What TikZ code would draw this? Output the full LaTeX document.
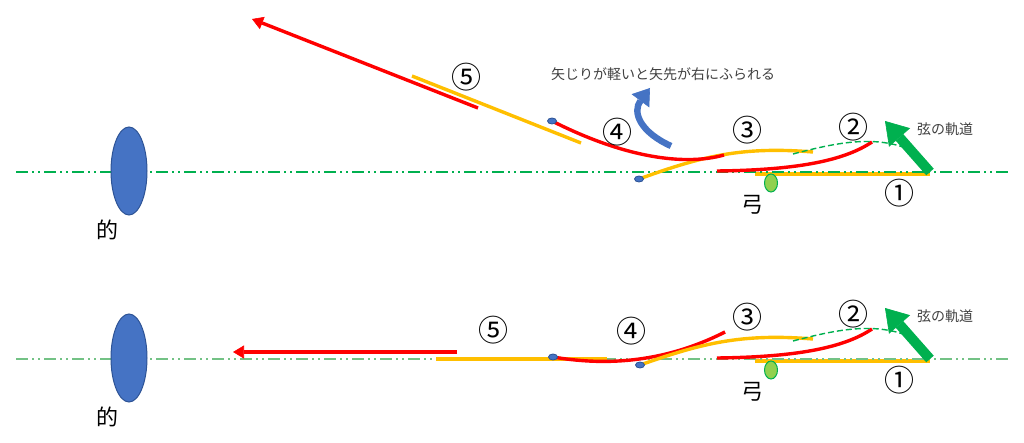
\documentclass[tikz,border=0pt]{standalone}
\usepackage{fontspec}
\setmainfont{Noto Sans CJK JP}
\usetikzlibrary{shapes,arrows.meta}
\definecolor{arrowred}{rgb}{1,0,0}
\definecolor{shaftyellow}{rgb}{1,0.75,0}
\definecolor{axisgreen}{rgb}{0,0.69,0.31}
\definecolor{axislight}{rgb}{0.45,0.76,0.52}
\definecolor{targetblue}{rgb}{0.27,0.45,0.77}
\definecolor{targetedge}{rgb}{0.18,0.33,0.59}
\definecolor{bowgreen}{rgb}{0.57,0.82,0.31}
\definecolor{textgray}{rgb}{0.25,0.25,0.25}

\begin{document}
\begin{tikzpicture}[
    x = 0.5pt, y = -0.5pt,
    axis/.style       = {line width=0.8pt,
      dash pattern=on 6pt off 2pt on 1pt off 2pt on 1pt off 2pt},
    redline/.style    = {draw=arrowred, line width=1.7pt},
    yellowline/.style = {draw=shaftyellow, line width=1.7pt},
    flight/.style     = {redline,
      -{Triangle[length=5.5pt,width=6.5pt,line width=0.3pt]}},
    stringpath/.style = {draw=axisgreen, line width=0.7pt,
      dash pattern=on 3pt off 1.5pt},
    pull/.style       = {draw=axisgreen, line width=5pt,
      -{Triangle[length=11pt,width=14pt,line width=0.3pt]}},
    swing/.style      = {draw=targetblue, line width=3.2pt,
      -{Triangle[length=8pt,width=11pt,line width=0.3pt]}},
    target/.style     = {ellipse, draw=targetedge, fill=targetblue,
      line width=0.5pt, minimum width=18pt, minimum height=44pt, inner sep=0pt},
    nock/.style       = {ellipse, draw=targetedge, fill=targetblue,
      line width=0.4pt, minimum width=4.5pt, minimum height=3pt, inner sep=0pt},
    bow/.style        = {ellipse, draw=axisgreen, fill=bowgreen,
      line width=0.5pt, minimum width=6.5pt, minimum height=9pt, inner sep=0pt},
    num/.style        = {font=\fontsize{15}{15}\selectfont, inner sep=0pt},
    kanji/.style      = {font=\fontsize{11}{11}\selectfont, inner sep=0pt},
    note/.style       = {font=\fontsize{7}{7}\selectfont, text=textgray, inner sep=0pt}
  ]
  \useasboundingbox (0,0) rectangle (1024,443);

  % upper row: light arrow head
  \coordinate (tailA) at (552,121);
  \coordinate (tailB) at (639,179);
  \draw[yellowline] (755,174) -- (930,174);
  \draw[axis, draw=axisgreen] (16,172) -- (1008,172);
  \node[target] (targetA) at (129,171) {};
  \node[kanji] (markA) at (108,230) {的};
  \draw[flight] (478,108) -- (252,19);
  \draw[yellowline] (412,76) -- (581,143);
  \draw[yellowline] (tailB) .. controls (700,157) and (740,146) .. (813,152);
  \draw[redline] (tailA) .. controls (625,158) and (685,166) .. (724,155);
  \draw[redline] (717,171) .. controls (800,170) and (845,160) .. (872,142);
  \draw[stringpath] (793,154) .. controls (835,143) and (870,136) .. (903,147);
  \node[nock] (nockA) at (tailA) {};
  \node[nock] (nockB) at (tailB) {};
  \node[bow] (bowA) at (771,183) {};
  \draw[pull] (930,172) -- (885,121);
  \draw[swing] (671,146) .. controls (640,132) and (632,112) .. (650,88);
  \node[num] (fiveA)  at (466,77)  {⑤};
  \node[num] (fourA)  at (617,132) {④};
  \node[num] (threeA) at (747,130) {③};
  \node[num] (twoA)   at (853,127) {②};
  \node[num] (oneA)   at (899,193) {①};
  \node[kanji] (bowlabelA) at (752,205) {弓};
  \node[note] (stringA) at (945,129) {弦の軌道};
  \node[note] (swingnote) at (663,74) {矢じりが軽いと矢先が右にふられる};

  % lower row: straight flight
  \coordinate (tailC) at (553,357);
  \coordinate (tailD) at (640,365);
  \draw[yellowline] (755,361) -- (930,361);
  \draw[axis, draw=axislight] (16,359) -- (1008,359);
  \node[target] (targetB) at (129,358) {};
  \node[kanji] (markB) at (108,417) {的};
  \draw[flight] (457,352) -- (233,352);
  \draw[yellowline] (436,359) -- (607,359);
  \draw[redline] (tailC) .. controls (600,365) and (660,365) .. (725,332);
  \draw[yellowline] (tailD) .. controls (700,344) and (740,333) .. (813,339);
  \draw[redline] (717,358) .. controls (800,357) and (845,347) .. (872,329);
  \draw[stringpath] (793,341) .. controls (835,330) and (870,323) .. (903,334);
  \node[nock] (nockC) at (tailC) {};
  \node[nock] (nockD) at (tailD) {};
  \node[bow] (bowB) at (771,370) {};
  \draw[pull] (930,359) -- (885,308);
  \node[num] (fiveB)  at (493,330) {⑤};
  \node[num] (fourB)  at (631,331) {④};
  \node[num] (threeB) at (747,317) {③};
  \node[num] (twoB)   at (853,314) {②};
  \node[num] (oneB)   at (899,380) {①};
  \node[kanji] (bowlabelB) at (752,392) {弓};
  \node[note] (stringB) at (945,316) {弦の軌道};
\end{tikzpicture}
\end{document}
